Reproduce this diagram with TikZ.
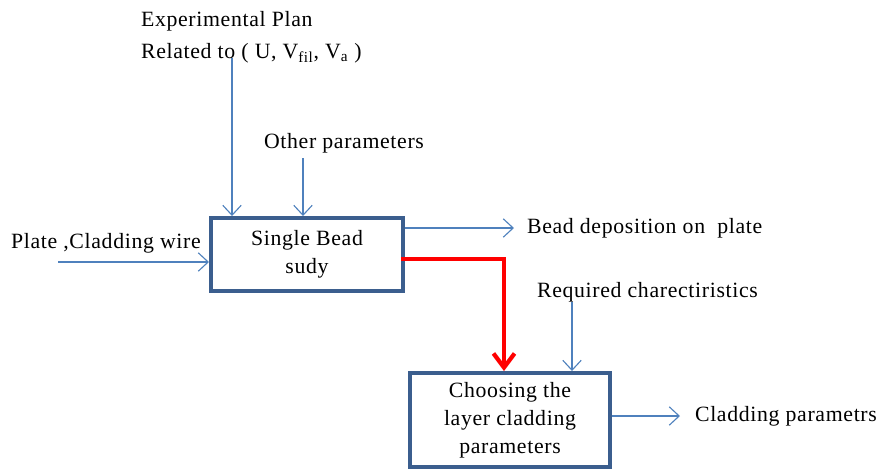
\documentclass[tikz,border=0pt]{standalone}
\usepackage{fontspec}
\setmainfont{Liberation Serif}[LetterSpace=3]
\usetikzlibrary{arrows.meta}

\definecolor{flowblue}{HTML}{4F81BD}
\definecolor{boxblue}{HTML}{3B5E8E}

\begin{document}
\begin{tikzpicture}[x=0.025cm, y=-0.025cm,
        every node/.style={font=\fontsize{15.5}{19}\selectfont},
        stage/.style={draw=boxblue, line width=2.8pt, rectangle, align=center, font=\fontsize{15.5}{20}\selectfont},
        lbl/.style={anchor=west, inner sep=2pt},
        flow/.style={-{Straight Barb[length=7pt, width=13pt]}, flowblue, line width=0.8pt},
        hot/.style={-{Straight Barb[length=10pt, width=15pt]}, red, line width=3pt}]
    \useasboundingbox (0,0) rectangle (881,469);

    % the two stages
    \node[stage, minimum width=4.8cm, minimum height=1.825cm] (bead) at (307,254.5) {Single Bead\\sudy};
    \node[stage, minimum width=5cm, minimum height=2.35cm] (choose) at (510,420) {Choosing the\\layer cladding\\parameters};

    % inputs and outputs
    \node[lbl, align=left, font=\fontsize{15.5}{23}\selectfont] (plan) at (138,37)
        {Experimental Plan\\Related to ( U, V\textsubscript{fil}, V\textsubscript{a} )};
    \node[lbl] (other) at (261,143) {Other parameters};
    \node[lbl] (plate) at (8,243) {Plate ,Cladding wire};
    \node[lbl] (dep) at (524,228) {Bead deposition on\ \ plate};
    \node[lbl] (req) at (534,292) {Required charectiristics};
    \node[lbl] (clad) at (692,416) {Cladding parametrs};

    \coordinate (planin) at (232,58);
    \coordinate (otherin) at (303,158);
    \coordinate (platein) at (58,262);
    \coordinate (reqin) at (572,302);

    \draw[flow] (planin) -- (planin |- bead.north);
    \draw[flow] (otherin) -- (otherin |- bead.north);
    \draw[flow] (platein) -- (platein -| bead.west);
    \draw[flow] (bead.east |- dep.west) -- ([xshift=-0.25cm]dep.west);
    \draw[flow] (reqin) -- (reqin |- choose.north);
    \draw[flow] (choose.east |- clad.west) -- ([xshift=-0.3cm]clad.west);

    \draw[hot] ([xshift=-0.1cm, yshift=-0.11cm]bead.east) -| ([xshift=-0.15cm]choose.north);
\end{tikzpicture}
\end{document}
